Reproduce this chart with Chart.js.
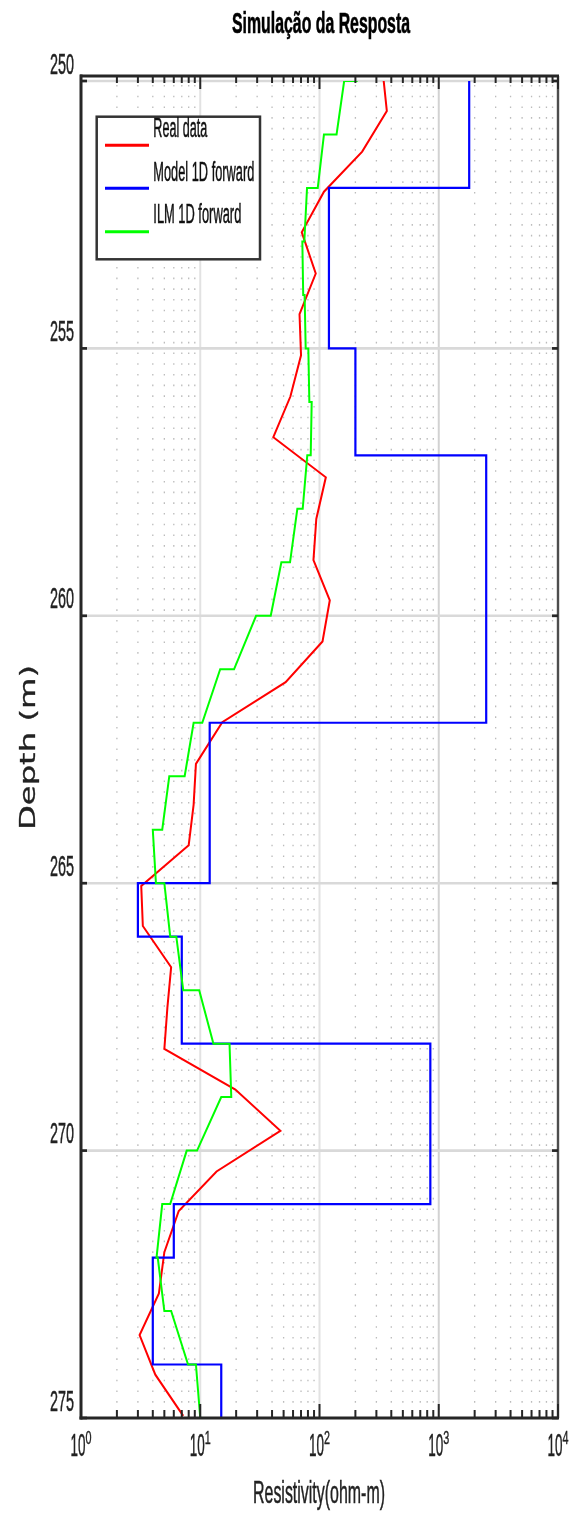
<!DOCTYPE html>
<html lang="pt">
<head>
<meta charset="utf-8">
<title>Simulação da Resposta</title>
<script src="https://cdn.jsdelivr.net/npm/chart.js@4.4.1/dist/chart.umd.min.js"></script>
<style>
    html, body { margin: 0; padding: 0; background: #fff; }
    #wrap { width: 579px; height: 1516px; }
</style>
</head>
<body>
<div id="wrap"><canvas id="chartResp" width="579" height="1516"></canvas></div>
<script>
// ================= DADOS =================
const depthTicks = [250, 255, 260, 265, 270, 275];
const resTicks = [1, 10, 100, 1000, 10000];
const resTickExp = ['0', '1', '2', '3', '4'];
const minorMult = [2, 3, 4, 5, 6, 7, 8, 9];

// Real data (amostras a cada ~0.76 m)
const realDepth = [249.80, 250.56, 251.32, 252.07, 252.83, 253.60, 254.36, 255.13, 255.90, 256.66,
    257.41, 258.19, 258.96, 259.71, 260.48, 261.24, 261.99, 262.77, 263.53, 264.29,
    265.05, 265.80, 266.57, 267.33, 268.10, 268.86, 269.63, 270.39, 271.13, 271.90,
    272.67, 273.45, 274.19, 274.96];
const realRes = [338, 367, 228, 109, 71, 93, 68, 70, 57, 41,
    113, 94, 89, 122, 106, 52, 15.3, 9.2, 8.8, 8.0,
    3.2, 3.3, 5.7, 5.3, 5.0, 19.7, 47, 13.7, 6.6, 5.0,
    4.5, 3.1, 4.2, 7.2];

// Model 1D (camadas)
const modelBounds = [250, 252, 255, 257, 262, 265, 266, 268, 271, 272, 274, 275];
const modelRes = [1800, 120, 200, 2500, 12, 3.0, 7.0, 850, 6.0, 4.0, 15];

// ILM 1D forward (entrada / saída de cada degrau)
const ilmDepth = [250, 251, 252, 253, 254, 255, 256, 257, 258, 259, 260, 261, 262,
    263, 264, 265, 266, 267, 268, 269, 270, 271, 272, 273, 274, 275];
const ilmResIn = [209, 139, 96.7, 74.6, 73, 76.6, 82.2, 84.4, 72.3, 56.6, 39, 19.2, 10.4,
    7.4, 4.8, 4.25, 5.6, 7.2, 12.9, 18.2, 9.4, 5.6, 4.3, 5.0, 7.9, 10];
const ilmResOut = [161, 109, 78.6, 71.8, 75, 80.6, 86, 79, 65.2, 47.9, 29.4, 14.7, 8.8,
    5.5, 4.0, 5.0, 6.3, 9.8, 17.6, 15.0, 7.7, 4.8, 4.4, 5.7, 9.2, 10];

const seriesNames = ['Real data', 'Model 1D forward', 'ILM 1D forward'];
const seriesColors = ['#ff0000', '#0000ff', '#00ff00'];

document.addEventListener('DOMContentLoaded', function () {

    const realPts = realDepth.map((d, i) => ({ x: realRes[i], y: d }));

    const modelPts = [];
    modelRes.forEach((r, i) => {
        modelPts.push({ x: r, y: modelBounds[i] });
        modelPts.push({ x: r, y: modelBounds[i + 1] });
    });

    const ilmPts = [];
    ilmDepth.forEach((d, i) => {
        ilmPts.push({ x: ilmResIn[i], y: d });
        ilmPts.push({ x: ilmResOut[i], y: d });
    });

    const NARROW = "'Liberation Sans Narrow', 'Liberation Sans', Arial, sans-serif";

    // texto "esticado" como no original (altura pela fonte, largura ajustada)
    function fitText(ctx, txt, x, y, o) {
        ctx.save();
        ctx.font = `${o.weight || 'normal'} ${o.size}px ${o.family || NARROW}`;
        const w = ctx.measureText(txt).width;
        const sx = o.w ? o.w / w : 1;
        ctx.translate(x, y);
        if (o.rot) ctx.rotate(o.rot);
        ctx.scale(sx, 1);
        ctx.textAlign = o.align || 'left';
        ctx.textBaseline = 'alphabetic';
        ctx.fillStyle = o.color || '#222';
        ctx.fillText(txt, 0, 0);
        if (o.stroke) {
            ctx.strokeStyle = o.color || '#222';
            ctx.lineWidth = o.stroke;
            ctx.strokeText(txt, 0, 0);
        }
        ctx.restore();
    }

    function line(ctx, x1, y1, x2, y2, color, width, dash) {
        ctx.save();
        ctx.strokeStyle = color;
        ctx.lineWidth = width;
        ctx.setLineDash(dash || []);
        ctx.beginPath();
        ctx.moveTo(x1, y1);
        ctx.lineTo(x2, y2);
        ctx.stroke();
        ctx.restore();
    }

    // ================= GRADE / EIXOS ESTILO MATLAB =================
    const matlabAxes = {
        id: 'matlabAxes',
        beforeDraw(chart) {
            const ctx = chart.ctx;
            ctx.save();
            ctx.fillStyle = '#fff';
            ctx.fillRect(0, 0, chart.width, chart.height);
            ctx.restore();
        },
        beforeDatasetsDraw(chart) {
            const ctx = chart.ctx;
            const xs = chart.scales.x, ys = chart.scales.y;
            const top = ys.getPixelForValue(250), bot = ys.getPixelForValue(275);
            const left = xs.getPixelForValue(1), right = xs.getPixelForValue(10000);

            // grade menor pontilhada
            resTicks.slice(0, -1).forEach(dec => {
                minorMult.forEach(m => {
                    const px = xs.getPixelForValue(dec * m);
                    line(ctx, px, top + 4, px, bot, '#bcbcbc', 1.3, [1.6, 9.1]);
                });
            });
            // grade maior
            resTicks.slice(1, -1).forEach(v => {
                const px = xs.getPixelForValue(v);
                line(ctx, px, top, px, bot, v === 1000 ? '#d2d2d2' : '#e2e2e2', 2);
            });
            depthTicks.slice(0, -1).forEach(d => {
                const py = ys.getPixelForValue(d);
                line(ctx, left, py, right, py, '#d9d9d9', 2.6);
            });
        },
        afterDatasetsDraw(chart) {
            const ctx = chart.ctx;
            const xs = chart.scales.x, ys = chart.scales.y;
            const top = ys.getPixelForValue(250), bot = ys.getPixelForValue(275);
            const left = xs.getPixelForValue(1), right = xs.getPixelForValue(10000);
            const frameTop = top - 5;

            // moldura
            line(ctx, left - 1, frameTop, right + 1, frameTop, '#262626', 3);
            line(ctx, right, frameTop, right, bot, '#4d4d4d', 2.4);
            line(ctx, left, frameTop - 1.5, left, bot + 1.5, '#262626', 3);
            line(ctx, left - 1.5, bot, right + 1, bot, '#262626', 3);

            // ticks x (baixo e topo)
            resTicks.forEach((dec, k) => {
                const px = xs.getPixelForValue(dec);
                line(ctx, px, bot, px, bot - 14, '#262626', 2);
                line(ctx, px, frameTop, px, frameTop + 13, '#262626', 2);
                if (k === resTicks.length - 1) return;
                minorMult.forEach(m => {
                    const mx = xs.getPixelForValue(dec * m);
                    line(ctx, mx, bot, mx, bot - 8, '#262626', 2);
                    line(ctx, mx, frameTop, mx, frameTop + 7, '#262626', 2);
                });
            });

            // ticks y + rótulos
            depthTicks.forEach(d => {
                const py = ys.getPixelForValue(d);
                line(ctx, left, py, left + 6, py, '#262626', 2.7);
                line(ctx, right - 6, py, right, py, '#262626', 2.7);
                fitText(ctx, String(d), 74, py - 7.5, { size: 30, w: 24, align: 'right', stroke: 0.5 });
            });

            // rótulos x (10^n)
            resTicks.forEach((v, i) => {
                const px = xs.getPixelForValue(v);
                fitText(ctx, '10', px - 10.5, 1456, { size: 31, w: 15, stroke: 0.5 });
                fitText(ctx, resTickExp[i], px + 4.5, 1444, { size: 18.5, w: 6, stroke: 0.4 });
            });

            // títulos
            fitText(ctx, 'Simulação da Resposta', 321, 32.5, { size: 30, weight: 'bold', w: 178, align: 'center', color: '#000', stroke: 0.6 });
            fitText(ctx, 'Resistivity(ohm-m)', 319, 1503, { size: 32, w: 132, align: 'center', stroke: 0.5 });
            fitText(ctx, 'Depth (m)', 35, 747.5, {
                size: 21, w: 165, align: 'center', rot: -Math.PI / 2,
                family: "'DejaVu Sans', sans-serif", stroke: 0.3
            });

            // legenda
            ctx.save();
            ctx.fillStyle = '#fff';
            ctx.fillRect(96.7, 116.7, 163.3, 142.6);
            ctx.strokeStyle = '#333';
            ctx.lineWidth = 2.5;
            ctx.strokeRect(96.7, 116.7, 163.3, 142.6);
            ctx.restore();

            const legLineY = [145.3, 188.3, 231.7];
            const legTextY = [137.3, 180.7, 223.3];
            const legTextW = [54, 101, 88];
            seriesNames.forEach((name, i) => {
                line(ctx, 105, legLineY[i], 149, legLineY[i], seriesColors[i], 3);
                fitText(ctx, name, 153.3, legTextY[i], { size: 27, w: legTextW[i], color: '#111', stroke: 0.5 });
            });
        }
    };

    // ================= GRÁFICO =================
    const canvas = document.getElementById('chartResp');
    new Chart(canvas, {
        type: 'scatter',
        data: {
            datasets: [
                {
                    label: seriesNames[0],
                    data: realPts,
                    showLine: true,
                    borderColor: seriesColors[0],
                    borderWidth: 2,
                    pointRadius: 0,
                    order: 3,
                },
                {
                    label: seriesNames[1],
                    data: modelPts,
                    showLine: true,
                    borderColor: seriesColors[1],
                    borderWidth: 2.2,
                    pointRadius: 0,
                    order: 2,
                },
                {
                    label: seriesNames[2],
                    data: ilmPts,
                    showLine: true,
                    borderColor: seriesColors[2],
                    borderWidth: 2,
                    pointRadius: 0,
                    order: 1,
                }
            ]
        },
        options: {
            responsive: false,
            animation: false,
            devicePixelRatio: 1,
            layout: {
                padding: { left: 81, right: 21, top: 81, bottom: 98 }
            },
            plugins: {
                legend: { display: false },
                tooltip: { enabled: false }
            },
            scales: {
                x: { type: 'logarithmic', min: 1, max: 10000, display: false },
                y: { type: 'linear', reverse: true, min: 250, max: 275, display: false }
            }
        },
        plugins: [matlabAxes]
    });

});
</script>
</body>
</html>
